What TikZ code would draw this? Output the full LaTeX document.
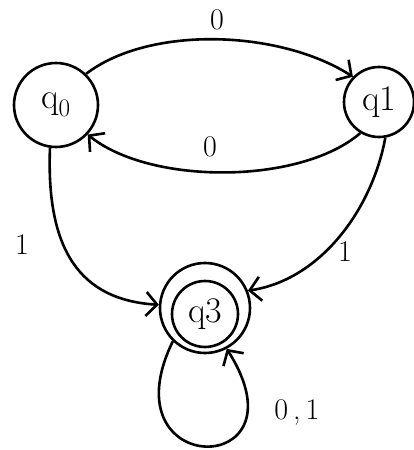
\documentclass[tikz,border=0pt]{standalone}
\usepackage{fontspec}
\usetikzlibrary{arrows.meta}
\begin{document}
\begin{tikzpicture}[x=1pt,y=1pt,
  state/.style={draw,circle,line width=2.6pt,inner sep=0pt,font=\fontsize{36}{38}\selectfont},
  trans/.style={line width=2.6pt,-{Straight Barb[length=11pt,width=24pt,line width=2.6pt]}},
  lab/.style={font=\fontsize{30}{32}\selectfont}]
\useasboundingbox (0,0) rectangle (413,450);
\node[state,minimum size=84pt] (q0) at (56,345) {q\textsubscript{0}};
\node[state,minimum size=70pt] (q1) at (379,348) {q1};
\node[state,minimum size=90pt] (q3) at (205,142) {};
\node[state,minimum size=66pt] (q3in) at (205,136) {q3};
\draw[trans] (q0.46) .. controls (150,425) and (280,420) .. (q1.136);
\draw[trans] (q1.239) .. controls (300,265) and (150,265) .. (q0.317);
\draw[trans] (q0.262) .. controls (46,200) and (80,150) .. (q3.176);
\draw[trans] (q1.280) .. controls (372,240) and (320,170) .. (q3.22);
\draw[trans] (q3.226) .. controls (105,-30) and (310,-30) .. (q3.298);
\node[lab] (l1) at (217,430) {0};
\node[lab] (l2) at (210,303) {0};
\node[lab] (l3) at (22,205) {1};
\node[lab] (l4) at (345,198) {1};
\node[lab] (l5) at (297,38) {0\,,\,1};
\end{tikzpicture}
\end{document}
